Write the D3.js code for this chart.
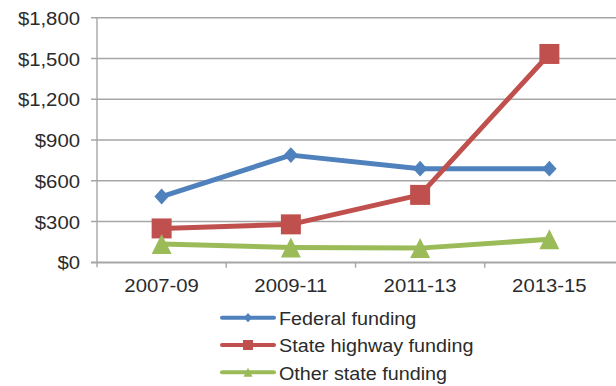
<!DOCTYPE html>
<html>
<head>
<meta charset="utf-8">
<script src="https://cdn.jsdelivr.net/npm/d3@7"></script>
<style>
  html, body { margin: 0; padding: 0; background: #fff; }
  svg { display: block; font-family: "Liberation Sans", Arial, sans-serif; }
</style>
</head>
<body>
<svg id="chart" width="616" height="386"></svg>
<script>
// Funding by biennium (millions of dollars)
const categories = ["2007-09", "2009-11", "2011-13", "2013-15"];
const federalFunding = [480, 785, 685, 685];
const stateHighwayFunding = [245, 275, 492, 1530];
const otherStateFunding = [130, 105, 100, 165];
const yTicks = [0, 300, 600, 900, 1200, 1500, 1800];

const series = [
  { name: "Federal funding", values: federalFunding, color: "#4F81BD", marker: "diamond" },
  { name: "State highway funding", values: stateHighwayFunding, color: "#C0504D", marker: "square" },
  { name: "Other state funding", values: otherStateFunding, color: "#9BBB59", marker: "triangle" }
];

const svg = d3.select("#chart");
const plot = { left: 97, right: 614, top: 17.3, bottom: 261.7 };

const x = d3.scaleBand().domain(categories).range([plot.left, plot.right]);
const y = d3.scaleLinear().domain([0, 1800]).range([plot.bottom, plot.top]);

const gridColor = "#A6A6A6";
const textColor = "#2B2B2B";
const fmt = v => "$" + d3.format(",")(v);

// Horizontal gridlines with left tick marks
const yAxis = d3.axisLeft(y).tickValues(yTicks).tickSize(-(616 - plot.left)).tickFormat(fmt).tickPadding(0);
const gy = svg.append("g").attr("transform", `translate(${plot.left},0)`).call(yAxis);
gy.select(".domain").remove();
gy.selectAll(".tick line")
  .attr("x1", -6).attr("x2", 616 - plot.left)
  .attr("stroke", gridColor).attr("stroke-width", 1.4);
gy.selectAll(".tick text").remove();
gy.selectAll(".tick").append("text")
  .attr("text-anchor", "end")
  .attr("transform", "translate(-17,7.2) scale(1.07,1)")
  .attr("fill", textColor)
  .style("font-size", "19px")
  .text(d => fmt(d));

// Vertical axis line
svg.append("line")
  .attr("x1", plot.left).attr("x2", plot.left)
  .attr("y1", plot.top).attr("y2", plot.bottom + 5.5)
  .attr("stroke", gridColor).attr("stroke-width", 1.4);

// Category axis with boundary ticks
const gx = svg.append("g").attr("transform", `translate(0,${plot.bottom + 1})`);
gx.append("line")
  .attr("x1", plot.left - 6).attr("x2", 616)
  .attr("stroke", gridColor).attr("stroke-width", 1.4);
gx.selectAll("line.cat-tick")
  .data(categories.slice(1))
  .join("line")
  .attr("class", "cat-tick")
  .attr("x1", d => x(d)).attr("x2", d => x(d))
  .attr("y1", 0).attr("y2", 5)
  .attr("stroke", gridColor).attr("stroke-width", 1.4);
gx.selectAll("text")
  .data(categories)
  .join("text")
  .attr("text-anchor", "middle")
  .attr("transform", d => `translate(${x(d) + x.bandwidth() / 2},29.5) scale(1.07,1)`)
  .attr("fill", textColor)
  .style("font-size", "19px")
  .text(d => d);

// Marker shapes, centred on their bounding box
function markerPath(type, s) {
  const p = d3.path();
  if (type === "diamond") {
    p.moveTo(0, -s * 1.1); p.lineTo(s, 0); p.lineTo(0, s * 1.1); p.lineTo(-s, 0); p.closePath();
  } else if (type === "square") {
    p.rect(-s, -s, 2 * s, 2 * s);
  } else {
    p.moveTo(0, -s); p.lineTo(s, s); p.lineTo(-s, s); p.closePath();
  }
  return p.toString();
}
const markerSize = { diamond: 7.2, square: 10, triangle: 10 };

const cx = d => x(d) + x.bandwidth() / 2;
const line = d3.line().x(d => cx(d.cat)).y(d => y(d.v));

const gLines = svg.append("g");
series.forEach(s => {
  const pts = categories.map((c, i) => ({ cat: c, v: s.values[i] }));
  gLines.append("path")
    .datum(pts)
    .attr("d", line)
    .attr("fill", "none")
    .attr("stroke", s.color)
    .attr("stroke-width", 5)
    .attr("stroke-linejoin", "round");
  gLines.selectAll(null)
    .data(pts)
    .join("path")
    .attr("transform", d => `translate(${cx(d.cat)},${y(d.v)})`)
    .attr("d", markerPath(s.marker, markerSize[s.marker]))
    .attr("fill", s.color);
});

// Legend
const legendMarker = { diamond: 4.2, square: 5, triangle: 4.5 };
const legend = svg.append("g");
const rows = legend.selectAll("g")
  .data(series)
  .join("g")
  .attr("transform", (d, i) => `translate(0,${317.7 + i * 27.3})`);
rows.append("line")
  .attr("x1", 222).attr("x2", 274)
  .attr("stroke", d => d.color)
  .attr("stroke-width", 4)
  .attr("stroke-linecap", "round");
rows.append("path")
  .attr("transform", "translate(248,0)")
  .attr("d", d => markerPath(d.marker, legendMarker[d.marker]))
  .attr("fill", d => d.color);
rows.append("text")
  .attr("transform", "translate(279,7.3) scale(1.13,1)")
  .attr("fill", textColor)
  .style("font-size", "17.5px")
  .text(d => d.name);
</script>
</body>
</html>
